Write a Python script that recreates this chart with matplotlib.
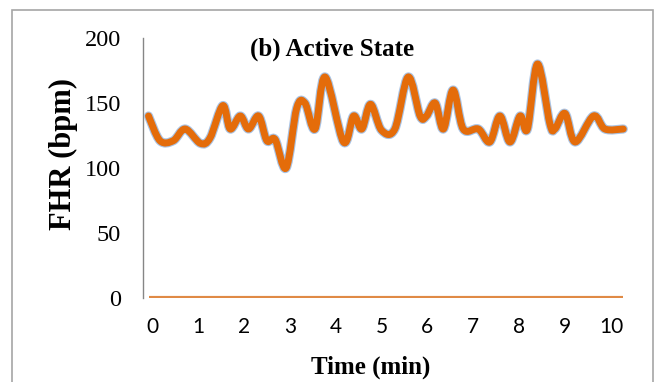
import matplotlib
matplotlib.use("Agg")
from matplotlib import pyplot as plt
from matplotlib.patches import Rectangle, PathPatch
from matplotlib.path import Path
import matplotlib.patheffects as pe

# FHR trace (time in minutes, rate in bpm)
time = [-0.08, 0.17, 0.46, 0.72, 1.05, 1.26, 1.54, 1.70, 1.92, 2.10,
        2.32, 2.50, 2.68, 2.92, 3.15, 3.33, 3.55, 3.77, 4.17, 4.39,
        4.57, 4.76, 5.00, 5.29, 5.58, 5.84, 5.98, 6.17, 6.35, 6.56,
        6.78, 7.11, 7.36, 7.58, 7.80, 8.02, 8.18, 8.40, 8.67, 8.78,
        9.00, 9.22, 9.62, 9.87, 10.27]
fhr = [140, 121, 121, 130, 119, 123, 148, 130, 140, 130,
       140, 121, 122, 100, 146, 150, 130, 170, 120, 140,
       130, 149, 129, 130, 170, 140, 140, 150, 130, 160,
       130, 130, 120, 140, 120, 140, 130, 180, 134, 130,
       142, 120, 140, 130, 130]
baseline = [0] * len(time)

xticks = [0, 1, 2, 3, 4, 5, 6, 7, 8, 9, 10]
yticks = [0, 50, 100, 150, 200]


def smooth_path(xs, ys):
    #Excel style smoothed line: bezier segments through every point
    n = len(xs)
    verts = [(xs[0], ys[0])]
    codes = [Path.MOVETO]
    for i in range(n - 1):
        x0, y0 = xs[max(i - 1, 0)], ys[max(i - 1, 0)]
        x1, y1 = xs[i], ys[i]
        x2, y2 = xs[i + 1], ys[i + 1]
        x3, y3 = xs[min(i + 2, n - 1)], ys[min(i + 2, n - 1)]
        verts += [(x1 + (x2 - x0) / 6, y1 + (y2 - y0) / 6),
                  (x2 - (x3 - x1) / 6, y2 - (y3 - y1) / 6),
                  (x2, y2)]
        codes += [Path.CURVE4] * 3
    return Path(verts, codes)


fig = plt.figure(figsize=(6.58, 3.82), dpi=100)
ax = fig.add_axes([143/658, 1-298/382, (632-143)/658, (298-38)/382])

#zero series
ax.plot(time, baseline, color='#E08A45', lw=3, solid_capstyle='butt', zorder=2)

#main trace with the light blue glow round it
trace = PathPatch(smooth_path(time, fhr), fill=False, edgecolor='#E46C0A', lw=5,
                  joinstyle='round', capstyle='round', zorder=3,
                  path_effects=[pe.Stroke(linewidth=6.6, foreground='#A9C3E4'), pe.Normal()])
ax.add_patch(trace)

ax.set_xlim(-0.2, 10.46)
ax.set_ylim(0, 200)
ax.set_xticks(xticks)
ax.set_yticks(yticks)
ax.set_xticklabels([str(v) for v in xticks], family='Lato', size=15)
ax.set_yticklabels([str(v) for v in yticks], family='Liberation Serif', size=17.5)
ax.tick_params(axis='x', length=0, pad=14)
ax.tick_params(axis='y', length=0, pad=16)

for s in ['top', 'right', 'bottom']:
    ax.spines[s].set_visible(False)
ax.spines['left'].set_color('#868686')
ax.spines['left'].set_linewidth(1)

fig.text(332/658, 1-49/382, '(b) Active State', ha='center', va='center',
         family='Liberation Serif', weight='bold', size=18)
fig.text(371/658, 1-367/382, 'Time (min)', ha='center', va='center',
         family='Liberation Serif', weight='bold', size=18)
fig.text(63/658, 1-154/382, 'FHR (bpm)', ha='center', va='center', rotation=90,
         family='Liberation Serif', weight='bold', size=22)

#chart area border
fig.patches.append(Rectangle((12/658, -0.05), (653-12)/658, 1.05-10/382,
                             transform=fig.transFigure, fill=False,
                             edgecolor='#A6A6A6', lw=1.2))

plt.savefig('out.png', dpi=100)
